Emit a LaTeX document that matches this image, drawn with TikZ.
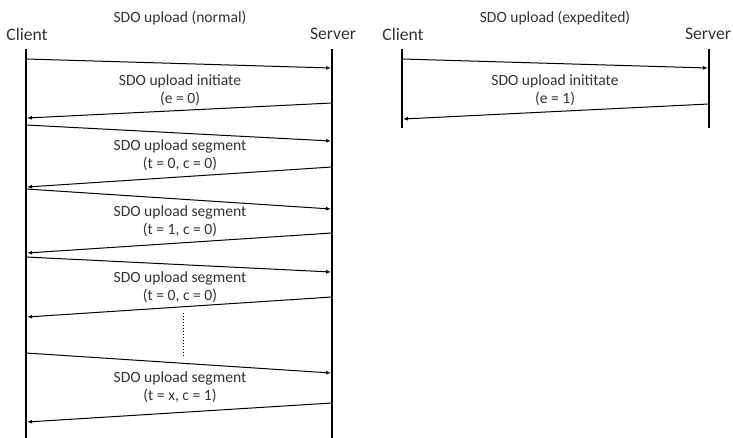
\documentclass[tikz,border=0pt]{standalone}
\usepackage{fontspec}
\setmainfont{Carlito}
\usetikzlibrary{arrows.meta}
\definecolor{txt}{HTML}{333333}
\tikzset{
  lifeline/.style={line width=2pt, black},
  msg/.style={line width=1pt, black, -{Latex[length=5pt,width=4pt]}},
  lbl/.style={text=txt, font=\fontsize{15.6}{18.5}\selectfont, align=center, inner sep=0pt},
  party/.style={text=txt, font=\fontsize{17.6}{20}\selectfont, inner sep=0pt},
  ttl/.style={text=txt, font=\fontsize{15.6}{18}\selectfont, inner sep=0pt},
}
\begin{document}
\begin{tikzpicture}[x=1pt,y=-1pt]
\useasboundingbox (0,0) rectangle (733,438);
% titles
\node[ttl] (t1) at (180,18) {SDO upload (normal)};
\node[ttl] (t2) at (555,18) {SDO upload (expedited)};
\node[party] (c1) at (27,34) {Client};
\node[party] (s1) at (333,34) {Server};
\node[party] (c2) at (403,34) {Client};
\node[party] (s2) at (708,34) {Server};
% lifelines
\coordinate (c1t) at (26,49); \coordinate (c1b) at (26,438);
\coordinate (s1t) at (332,49); \coordinate (s1b) at (332,438);
\coordinate (c2t) at (402,49); \coordinate (c2b) at (402,128);
\coordinate (s2t) at (709,49); \coordinate (s2b) at (709,128);
\draw[lifeline] (c1t) -- (c1b);
\draw[lifeline] (s1t) -- (s1b);
\draw[lifeline] (c2t) -- (c2b);
\draw[lifeline] (s2t) -- (s2b);
% left messages
\coordinate (a1) at (26,59);  \coordinate (b1) at (331,68);
\coordinate (a2) at (332,103); \coordinate (b2) at (27,118);
\coordinate (a3) at (26,125); \coordinate (b3) at (331,141);
\coordinate (a4) at (332,167); \coordinate (b4) at (27,187);
\coordinate (a5) at (26,189); \coordinate (b5) at (331,209);
\coordinate (a6) at (332,233); \coordinate (b6) at (27,253);
\coordinate (a7) at (26,257); \coordinate (b7) at (331,272);
\coordinate (a8) at (332,297); \coordinate (b8) at (27,317);
\coordinate (a9) at (26,353); \coordinate (b9) at (331,373);
\coordinate (a10) at (332,403); \coordinate (b10) at (27,422);
\foreach \i in {1,...,10} { \draw[msg] (a\i) -- (b\i); }
\node[lbl] (l1) at (180,90) {SDO upload initiate\\(e = 0)};
\node[lbl] (l2) at (180,155) {SDO upload segment\\(t = 0, c = 0)};
\node[lbl] (l3) at (180,221) {SDO upload segment\\(t = 1, c = 0)};
\node[lbl] (l4) at (180,287) {SDO upload segment\\(t = 0, c = 0)};
\node[lbl] (l5) at (180,387) {SDO upload segment\\(t = x, c = 1)};
\coordinate (d1) at (183,313); \coordinate (d2) at (183,358);
\draw[black, line width=1pt, dotted] (d1) -- (d2);
% right messages
\coordinate (e1) at (402,59);  \coordinate (f1) at (708,68);
\coordinate (e2) at (709,104); \coordinate (f2) at (403,119);
\draw[msg] (e1) -- (f1);
\draw[msg] (e2) -- (f2);
\node[lbl] (r1) at (555,90) {SDO upload inititate\\(e = 1)};
\end{tikzpicture}
\end{document}
